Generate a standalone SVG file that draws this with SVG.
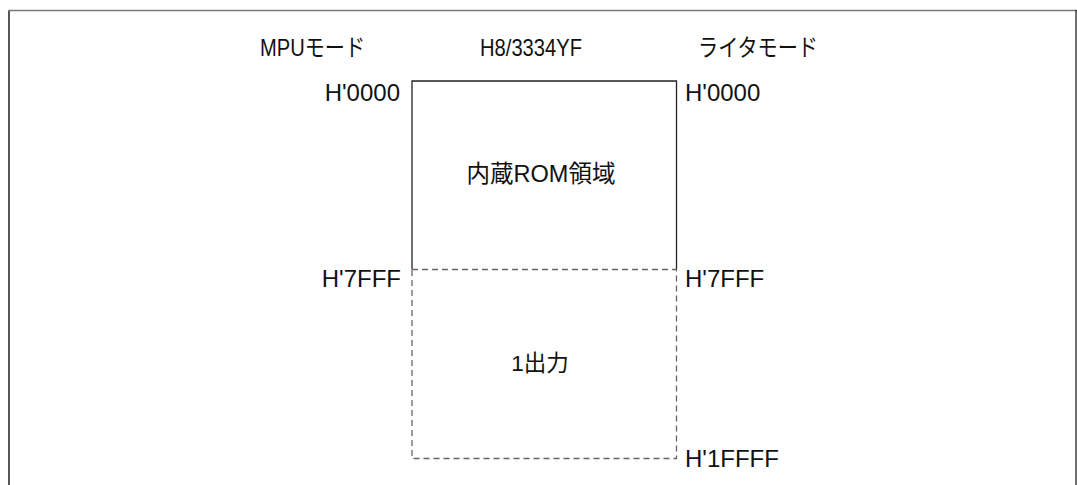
<svg xmlns="http://www.w3.org/2000/svg" width="1077" height="485" viewBox="0 0 1077 485">
<style>
text{font-family:"Liberation Sans","Noto Sans CJK JP",sans-serif;font-size:21px;fill:#111}
.addr{font-size:24px}
.hdr{font-size:24px}
.solid{fill:none;stroke:#222;stroke-width:1.3}
.dash{fill:none;stroke:#666;stroke-width:1.3;stroke-dasharray:6,4}
</style>
<rect width="1077" height="485" fill="#fff"/>
<g id="frame">
<path d="M9,485 V10.5 H1077" fill="none" stroke="#777" stroke-width="1.5"/>
<path d="M9,485 V11" fill="none" stroke="#333" stroke-width="1.3"/>
<path d="M1076,10 V485" fill="none" stroke="#222" stroke-width="1.3"/>
</g>
<g id="headers">
<text class="hdr" x="260" y="56" textLength="105" lengthAdjust="spacingAndGlyphs">MPUモード</text>
<text class="hdr" x="480" y="56" textLength="102" lengthAdjust="spacingAndGlyphs">H8/3334YF</text>
<text class="hdr" x="698" y="56" textLength="120" lengthAdjust="spacingAndGlyphs">ライタモード</text>
</g>
<g id="rom">
<path class="solid" d="M412,269.5 V81 H676.5 V269.5"/>
<path class="dash" d="M412,269.5 H676.5" stroke="#333"/>
<text x="541" y="182" text-anchor="middle" style="font-size:23.5px">内蔵ROM領域</text>
</g>
<g id="out">
<path class="dash" d="M412,270 V458.5 H676.5 V270"/>
<text x="540" y="371" text-anchor="middle" style="font-size:22.5px">1出力</text>
</g>
<g id="addresses">
<text class="addr" x="400" y="100.5" text-anchor="end">H'0000</text>
<text class="addr" x="685" y="100.5">H'0000</text>
<text class="addr" x="401" y="287" text-anchor="end">H'7FFF</text>
<text class="addr" x="685" y="287">H'7FFF</text>
<text class="addr" x="685" y="467">H'1FFFF</text>
</g>
</svg>
